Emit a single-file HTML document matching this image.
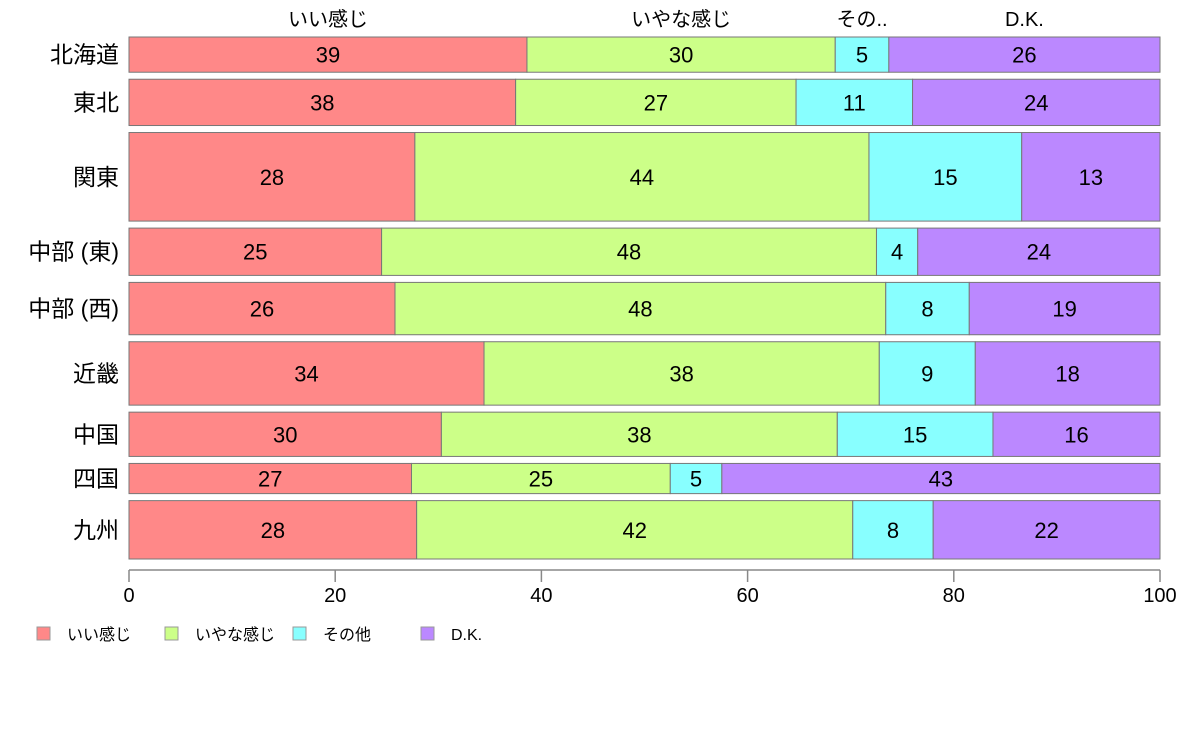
<!DOCTYPE html>
<html><head><meta charset="utf-8">
<style>
body{margin:0;background:#fff;}
svg{display:block;font-family:"Liberation Sans","Noto Sans CJK JP",sans-serif;}
</style></head>
<body>
<svg id="chart" width="1188" height="736" viewBox="0 0 1188 736" xmlns="http://www.w3.org/2000/svg">
<g id="bars"></g>
<g id="axis"></g>
<g id="legend"></g>
</svg>
<script>
const regions = ["北海道","東北","関東","中部 (東)","中部 (西)","近畿","中国","四国","九州"];
const weights = [35,46,88,47,52,63,44,30,58];
const seriesNames = ["いい感じ","いやな感じ","その他","D.K."];
const topLabels = ["いい感じ","いやな感じ","その..","D.K."];
const good = [38.6,37.5,27.7,24.5,25.8,34.4,30.3,27.4,27.9];
const bad = [29.9,27.2,44.0,48.0,47.6,38.3,38.4,25.1,42.3];
const other = [5.2,11.3,14.8,4.0,8.1,9.3,15.1,5.0,7.8];
const dk = [26.3,24.0,13.4,23.5,18.5,17.9,16.2,42.5,22.0];
const ticks = [0,20,40,60,80,100];
const colors = ["#FF8888","#CCFF88","#88FFFF","#BB88FF"];

const NS="http://www.w3.org/2000/svg";
const x0=129,x1=1160,yTop=37,yBot=559,gap=7;
const xs=v=>x0+(x1-x0)*v/100;
function mk(t,a,parent){const e=document.createElementNS(NS,t);for(const k in a)e.setAttribute(k,a[k]);parent.appendChild(e);return e;}
const series=[good,bad,other,dk];
const totalW=weights.reduce((a,b)=>a+b,0);
const avail=(yBot-yTop)-gap*(regions.length-1);
const barsG=document.getElementById('bars');
let y=yTop;
regions.forEach((r,i)=>{
  const h=avail*weights[i]/totalW;
  const lab=mk('text',{x:119,y:y+h/2+8,'text-anchor':'end','font-size':23,fill:'#000'},barsG);
  
  
  lab.textContent=r;
  const sum=series.reduce((a,s)=>a+s[i],0);
  let acc=0;
  series.forEach((s,j)=>{
    const v=s[i]/sum*100;
    const rect=mk('rect',{x:xs(acc),y:y,width:xs(acc+v)-xs(acc),height:h,fill:colors[j],stroke:'#777','stroke-width':1},barsG);
    
    
    const t=mk('text',{x:(xs(acc)+xs(acc+v))/2,y:y+h/2+8,'text-anchor':'middle','font-size':22,fill:'#000'},barsG);
    
    
    t.textContent=Math.round(s[i]);
    if(i===0){
      const tl=mk('text',{x:(xs(acc)+xs(acc+v))/2,y:26,'text-anchor':'middle','font-size':20,fill:'#000'},barsG);
      
      
      tl.textContent=topLabels[j];
    }
    acc+=v;
  });
  y+=h+gap;
});
const ax=document.getElementById('axis');
const al=mk('line',{x1:x0,x2:x1,y1:570,y2:570,stroke:'#888','stroke-width':1.5},ax);


ticks.forEach(t=>{
  const tk=mk('line',{x1:xs(t),x2:xs(t),y1:570,y2:582,stroke:'#888','stroke-width':1.5},ax);
  
  
  const tx=mk('text',{x:xs(t),y:602,'text-anchor':'middle','font-size':20,fill:'#000'},ax);
  
  
  tx.textContent=t;
});
const lg=document.getElementById('legend');
const lx=[37,165,293,421];
seriesNames.forEach((n,j)=>{
  const sq=mk('rect',{x:lx[j],y:627,width:13,height:13,fill:colors[j],stroke:'#999'},lg);
  
  
  const tx=mk('text',{x:lx[j]+30,y:640,'font-size':16,fill:'#000'},lg);
  
  
  tx.textContent=n;
});
</script>
</body></html>
